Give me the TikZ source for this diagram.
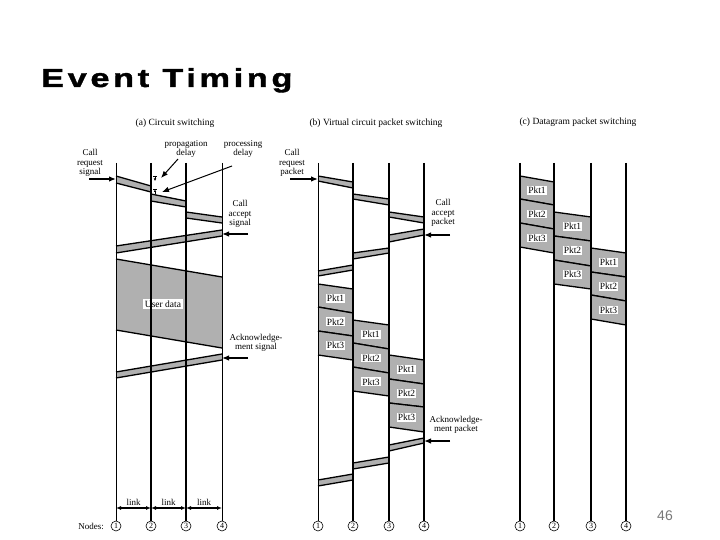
\documentclass[tikz,border=0pt]{standalone}
\usepackage{fontspec}
\setmainfont{Liberation Serif}
\newfontfamily\titlefont[LetterSpace=14, FakeStretch=1.32, FakeBold=1.5]{Liberation Sans Bold}
\newfontfamily\pgfont{Liberation Sans}
\usetikzlibrary{arrows.meta}
\definecolor{bandgray}{RGB}{176,176,176}
\definecolor{pggray}{RGB}{120,120,120}
\newcommand\myband[6]{%
  \fill[bandgray] (#1,#2)--(#4,#5)--(#4,#6)--(#1,#3)--cycle;
  \draw[edgeline] (#1,#2)--(#4,#5) (#1,#3)--(#4,#6);}
\newcommand\mypkt[8]{%
  \fill[bandgray] (#2,#3)--(#5,#6)--(#5,#7)--(#2,#4)--cycle;
  \draw[edgeline] (#2,#3)--(#5,#6) (#2,#4)--(#5,#7);
  \node[pk] (#1) at ({(#2+#5)/2},{(#3+#4+#6+#7)/4}) {#8};}
\begin{document}
\begin{tikzpicture}[x=1pt,y=-1pt,
  lbl/.style={font=\fontsize{9}{9.5}\selectfont, align=center, inner sep=0pt},
  sub/.style={font=\fontsize{9.5}{10}\selectfont, inner sep=0pt},
  pk/.style={fill=white, inner sep=1pt, font=\fontsize{9.5}{10}\selectfont},
  nd/.style={circle, draw, line width=0.6pt, minimum size=10pt, inner sep=0pt, font=\fontsize{8}{8}\selectfont},
  pt/.style={-{Latex[length=7pt,width=5.5pt]}, line width=1.3pt},
  lk/.style={{Latex[length=5pt,width=4pt]}-{Latex[length=5pt,width=4pt]}, line width=1.2pt},
  edgeline/.style={line width=1.3pt},
  tinyline/.style={line width=0.6pt}
]
\useasboundingbox (0,0) rectangle (720,540);
\fill[white] (0,0) rectangle (720,540);

% title
\node[anchor=base west, inner sep=0pt, font=\titlefont\fontsize{26}{30}\selectfont] (title) at (41,87) {Event Timing};
\node[anchor=base, inner sep=0pt, text=pggray, font=\pgfont\fontsize{14}{14}\selectfont] (pagenum) at (665,520) {46};

% subtitles
\node[sub] (ta) at (175,123) {(a) Circuit switching};
\node[sub] (tb) at (376,123) {(b) Virtual circuit packet switching};
\node[sub] (tc) at (578,122) {(c) Datagram packet switching};

% ---------------- (a) bands ----------------
\myband{116}{176}{183}{151}{186}{192}
\myband{151}{194}{201}{186}{201}{207}
\myband{186}{212}{218}{222}{217}{223}
\myband{116}{246}{253}{222}{230}{236}
\fill[bandgray] (116,259)--(222,277)--(222,348)--(116,330)--cycle;
\draw[edgeline] (116,259)--(222,277) (116,330)--(222,348);
\node[pk, inner sep=1.5pt] (udata) at (163,304) {User data};
\myband{116}{372}{378}{222}{354}{360}

% ---------------- (b) bands ----------------
\myband{318}{176}{181}{353}{182}{188}
\myband{353}{194}{199}{389}{199}{205}
\myband{389}{212}{217}{424}{217}{223}
\myband{389}{235}{242}{424}{229}{235}
\myband{353}{253}{259}{389}{248}{253}
\myband{318}{271}{276}{353}{265}{270}
\mypkt{bp11}{318}{284}{307}{353}{289}{313}{Pkt1}
\mypkt{bp12}{318}{307}{331}{353}{313}{336}{Pkt2}
\mypkt{bp13}{318}{331}{355}{353}{336}{360}{Pkt3}
\mypkt{bp21}{353}{320}{343}{389}{325}{349}{Pkt1}
\mypkt{bp22}{353}{343}{367}{389}{349}{373}{Pkt2}
\mypkt{bp23}{353}{367}{391}{389}{373}{396}{Pkt3}
\mypkt{bp31}{389}{355}{379}{424}{360}{384}{Pkt1}
\mypkt{bp32}{389}{379}{403}{424}{384}{407}{Pkt2}
\mypkt{bp33}{389}{403}{427}{424}{407}{432}{Pkt3}
\myband{389}{445}{451}{424}{438}{443}
\myband{353}{463}{469}{389}{457}{463}
\myband{318}{480}{486}{353}{474}{480}

% ---------------- (c) packets ----------------
\mypkt{cp11}{520}{176}{199}{554}{182}{205}{Pkt1}
\mypkt{cp12}{520}{199}{223}{554}{205}{229}{Pkt2}
\mypkt{cp13}{520}{223}{247}{554}{229}{253}{Pkt3}
\mypkt{cp21}{554}{212}{236}{591}{217}{241}{Pkt1}
\mypkt{cp22}{554}{236}{260}{591}{241}{266}{Pkt2}
\mypkt{cp23}{554}{260}{284}{591}{266}{289}{Pkt3}
\mypkt{cp31}{591}{248}{272}{626}{253}{277}{Pkt1}
\mypkt{cp32}{591}{272}{295}{626}{277}{301}{Pkt2}
\mypkt{cp33}{591}{295}{319}{626}{301}{325}{Pkt3}

% ---------------- node circles and vertical lines ----------------
\foreach \n/\x/\d/\w in {a1/116/1/0.9, a2/151/2/1.6, a3/186/3/1.6, a4/222/4/1.0,
                      b1/318/1/1.0, b2/353/2/1.4, b3/389/3/1.8, b4/424/4/1.4,
                      c1/520/1/1.8, c2/554/2/1.8, c3/591/3/1.8, c4/626/4/1.8}{
  \coordinate (\n t) at (\x,163);
  \node[nd] (\n) at (\x,526) {\d};
  \draw[line width=\w pt] (\n t) -- (\n);
}
\node[lbl, anchor=east] (nodes) at (104,526) {Nodes:};

% link arrows
\coordinate (l1) at (116,508); \coordinate (l2) at (151,508);
\coordinate (l3) at (186,508); \coordinate (l4) at (222,508);
\draw[lk] (l1) -- node[lbl, above=2pt] (lk1) {link} (l2);
\draw[lk] (l2) -- node[lbl, above=2pt] (lk2) {link} (l3);
\draw[lk] (l3) -- node[lbl, above=2pt] (lk3) {link} (l4);

% ---------------- (a) labels ----------------
\node[lbl] (creq) at (90,163) {Call\\request\\signal};
\coordinate (creqs) at (89,179);
\draw[pt] (creqs) -- (116,179);
\node[lbl] (prop) at (186,149) {propagation\\delay};
\node[lbl] (proc) at (243,149) {processing\\delay};
\coordinate (props) at (178,159); \coordinate (prope) at (161,178);
\coordinate (procs) at (232,166); \coordinate (proce) at (162,192);
\draw[pt, line width=1pt] (props) -- (prope);
\draw[pt, line width=1pt] (procs) -- (proce);
% delay marks
\draw[tinyline] (153,176) -- (157,176);
\draw[tinyline, -{Latex[length=2.5pt,width=2.5pt]}] (155,176) -- (155,181);
\draw[tinyline] (153,189) -- (157,189);
\draw[tinyline, -{Latex[length=2.5pt,width=2.5pt]}] (155,194) -- (155,189.5);
\node[lbl] (cacc) at (240,214) {Call\\accept\\signal};
\coordinate (caccs) at (248,234);
\draw[pt] (caccs) -- (222,234);
\node[lbl] (ack) at (256,343) {Acknowledge-\\ment signal};
\coordinate (acks) at (248,358);
\draw[pt] (acks) -- (222,358);

% ---------------- (b) labels ----------------
\node[lbl] (creqb) at (292,163) {Call\\request\\packet};
\coordinate (creqbs) at (290,179);
\draw[pt] (creqbs) -- (318,179);
\node[lbl] (caccb) at (443,213) {Call\\accept\\packet};
\coordinate (caccbs) at (450,235);
\draw[pt] (caccbs) -- (424,235);
\node[lbl] (ackb) at (456,425) {Acknowledge-\\ment packet};
\coordinate (ackbs) at (450,441);
\draw[pt] (ackbs) -- (424,441);
\end{tikzpicture}
\end{document}
